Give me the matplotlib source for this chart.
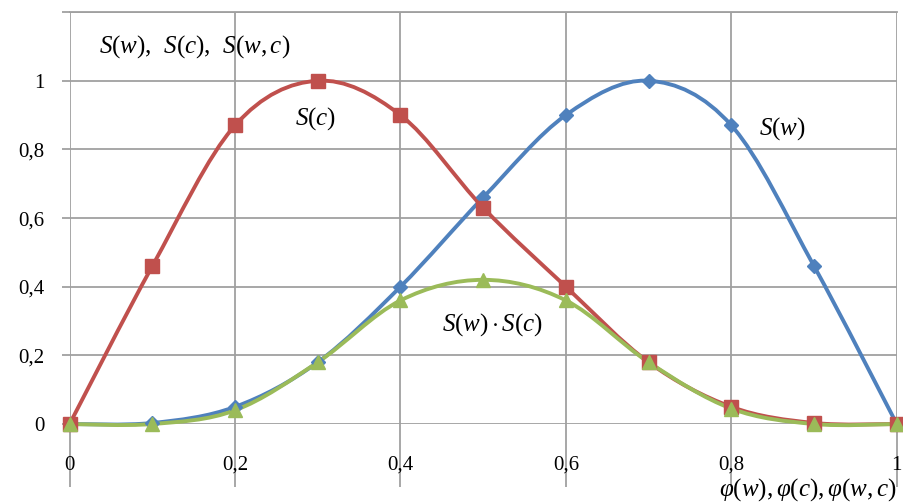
import matplotlib.pyplot as plt
import numpy as np
from matplotlib.path import Path
from matplotlib.patches import PathPatch
from matplotlib.ticker import FuncFormatter

plt.rcParams['mathtext.fontset'] = 'custom'
plt.rcParams['mathtext.rm'] = 'Liberation Serif'
plt.rcParams['mathtext.it'] = 'Liberation Serif:italic'
plt.rcParams['font.family'] = ['Liberation Serif', 'DejaVu Serif']

phi = [0, 0.1, 0.2, 0.3, 0.4, 0.5, 0.6, 0.7, 0.8, 0.9, 1.0]
s_w = [0, 0.003, 0.05, 0.18, 0.40, 0.66, 0.90, 1.0, 0.87, 0.46, 0]
s_c = [0, 0.46, 0.87, 1.0, 0.90, 0.63, 0.40, 0.18, 0.05, 0.003, 0]
s_wc = [0, 0, 0.04, 0.18, 0.36, 0.42, 0.36, 0.18, 0.045, 0, 0]

blue = '#4F81BD'
red = '#C0504D'
green = '#9BBB59'


def smooth_path(x, y):
    # excel-like smoothed line: bezier with catmull-rom control points
    p = np.column_stack([x, y]).astype(float)
    n = len(p)
    verts = [p[0]]
    codes = [Path.MOVETO]
    for i in range(n - 1):
        p0 = p[i - 1] if i > 0 else p[i]
        p3 = p[i + 2] if i + 2 < n else p[i + 1]
        c1 = p[i] + (p[i + 1] - p0) / 6
        c2 = p[i + 1] - (p3 - p[i]) / 6
        verts += [c1, c2, p[i + 1]]
        codes += [Path.CURVE4] * 3
    return Path(verts, codes)


fig, ax = plt.subplots(figsize=(9.04, 5.03), dpi=100)
fig.subplots_adjust(left=0.077, right=0.992, bottom=0.157, top=0.976)

for y, col, mk, ms in [(s_w, blue, 'D', 7), (s_c, red, 's', 10), (s_wc, green, '^', 10)]:
    ax.add_patch(PathPatch(smooth_path(phi, y), facecolor='none', edgecolor=col,
                           lw=2.8, zorder=3, clip_on=False))
    ax.plot(phi, y, linestyle='none', marker=mk, markersize=ms, color=col,
            zorder=4, clip_on=False)

ax.set_xlim(0, 1)
ax.set_ylim(0, 1.2)
ax.set_xticks(np.arange(0, 1.01, 0.2))
ax.set_yticks(np.arange(0, 1.21, 0.2))
fmt = FuncFormatter(lambda v, pos: '' if v > 1.1 else ('%g' % round(v, 1)).replace('.', ','))
ax.xaxis.set_major_formatter(fmt)
ax.yaxis.set_major_formatter(fmt)
ax.grid(True, color='#A0A0A0', lw=1.3)
ax.axhline(1.2, color='#A0A0A0', lw=1.3, clip_on=False)
for s in ax.spines.values():
    s.set_visible(False)
ax.tick_params(axis='x', length=45, width=1.3, color='#A0A0A0', pad=-22, labelsize=15)
ax.tick_params(axis='y', length=6, width=1.3, color='#A0A0A0', pad=12, labelsize=15)

ax.text(0.035, 1.10, r'$S(w)$,  $S(c)$,  $S(w,c)$', fontsize=18, va='center')
ax.text(0.272, 0.89, r'$S(c)$', fontsize=18, va='center')
ax.text(0.833, 0.862, r'$S(w)$', fontsize=18, va='center')
ax.text(0.45, 0.29, r'$S(w)\cdot S(c)$', fontsize=18, va='center')
ax.text(1.0, -0.19, r'$\varphi(w), \varphi(c), \varphi(w,c)$', fontsize=18,
        ha='right', va='center')

plt.savefig('out.png', dpi=100)
